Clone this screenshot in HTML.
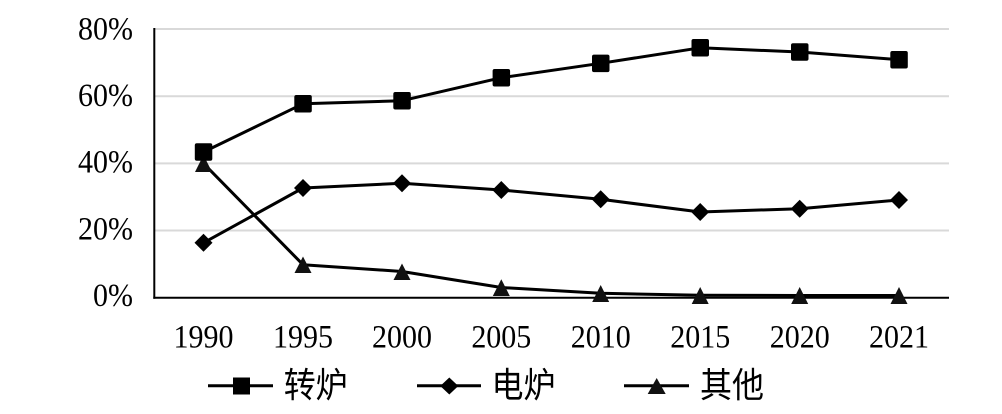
<!DOCTYPE html>
<html>
<head>
<meta charset="utf-8">
<style>
  html, body { margin: 0; padding: 0; background: #ffffff; }
  svg { display: block; }
  .num { font-family: "Liberation Serif", serif; font-size: 30px; fill: #000; }
  .cjk { font-family: "Liberation Sans", "Noto Sans CJK SC", sans-serif; font-size: 32px; fill: #000; }
</style>
</head>
<body>
<svg width="1002" height="414" viewBox="0 0 1002 414" xmlns="http://www.w3.org/2000/svg">
  <rect x="0" y="0" width="1002" height="414" fill="#ffffff"/>

  <!-- gridlines -->
  <g stroke="#d9d9d9" stroke-width="2">
    <line x1="155" y1="29" x2="949" y2="29"/>
    <line x1="155" y1="96.2" x2="949" y2="96.2"/>
    <line x1="155" y1="163.4" x2="949" y2="163.4"/>
    <line x1="155" y1="230.5" x2="949" y2="230.5"/>
  </g>

  <!-- axes -->
  <line x1="154.3" y1="28" x2="154.3" y2="298.7" stroke="#000" stroke-width="2"/>
  <line x1="153.3" y1="297.7" x2="949" y2="297.7" stroke="#000" stroke-width="2"/>

  <!-- Y axis labels -->
  <g class="num" text-anchor="end">
    <g transform="translate(133,39.3) scale(1,1.1)"><text x="0" y="0">80%</text></g>
    <g transform="translate(133,106) scale(1,1.1)"><text x="0" y="0">60%</text></g>
    <g transform="translate(133,172.7) scale(1,1.1)"><text x="0" y="0">40%</text></g>
    <g transform="translate(133,239.3) scale(1,1.1)"><text x="0" y="0">20%</text></g>
    <g transform="translate(133,306) scale(1,1.1)"><text x="0" y="0">0%</text></g>
  </g>

  <!-- X axis labels -->
  <g class="num" text-anchor="middle">
    <g transform="translate(203.5,347.7) scale(1,1.1)"><text x="0" y="0">1990</text></g>
    <g transform="translate(303,347.7) scale(1,1.1)"><text x="0" y="0">1995</text></g>
    <g transform="translate(402,347.7) scale(1,1.1)"><text x="0" y="0">2000</text></g>
    <g transform="translate(501.3,347.7) scale(1,1.1)"><text x="0" y="0">2005</text></g>
    <g transform="translate(600.7,347.7) scale(1,1.1)"><text x="0" y="0">2010</text></g>
    <g transform="translate(700.2,347.7) scale(1,1.1)"><text x="0" y="0">2015</text></g>
    <g transform="translate(799.7,347.7) scale(1,1.1)"><text x="0" y="0">2020</text></g>
    <g transform="translate(899,347.7) scale(1,1.1)"><text x="0" y="0">2021</text></g>
  </g>

  <!-- Series lines -->
  <g fill="none" stroke="#000" stroke-width="3" stroke-linejoin="round">
    <!-- 其他 -->
    <polyline points="203.5,163.4 303,264.7 402,271.5 501.3,287.5 600.7,293.3 700.2,295.3 799.7,295.5 899,295.5"/>
    <!-- 电炉 -->
    <polyline points="203.5,242.8 303,188 402,183.3 501.3,190 600.7,199.3 700.2,212 799.7,208.7 899,200"/>
    <!-- 转炉 -->
    <polyline points="203.5,152 303,103.8 402,100.7 501.3,77.7 600.7,63.3 700.2,47.8 799.7,52 899,59.7"/>
  </g>

  <!-- 其他 markers (triangles) -->
  <g fill="#111">
    <polygon points="203.5,155 212,172 195,172"/>
    <polygon points="303,256.5 311.5,273 294.5,273"/>
    <polygon points="402,263.5 410.5,280 393.5,280"/>
    <polygon points="501.3,279.3 509.8,296 492.8,296"/>
    <polygon points="600.7,285 609.2,302 592.2,302"/>
    <polygon points="700.2,287 708.7,304 691.7,304"/>
    <polygon points="799.7,287 808.2,304 791.2,304"/>
    <polygon points="899,287 907.5,304 890.5,304"/>
  </g>

  <!-- 电炉 markers (diamonds) -->
  <g fill="#000">
    <polygon points="203.5,233.8 212.5,242.8 203.5,251.8 194.5,242.8"/>
    <polygon points="303,179 312,188 303,197 294,188"/>
    <polygon points="402,174.3 411,183.3 402,192.3 393,183.3"/>
    <polygon points="501.3,181 510.3,190 501.3,199 492.3,190"/>
    <polygon points="600.7,190.3 609.7,199.3 600.7,208.3 591.7,199.3"/>
    <polygon points="700.2,203 709.2,212 700.2,221 691.2,212"/>
    <polygon points="799.7,199.7 808.7,208.7 799.7,217.7 790.7,208.7"/>
    <polygon points="899,191 908,200 899,209 890,200"/>
  </g>

  <!-- 转炉 markers (squares) -->
  <g fill="#000">
    <rect x="194.8" y="143.3" width="17.5" height="17.5" rx="2"/>
    <rect x="294.3" y="95" width="17.5" height="17.5" rx="2"/>
    <rect x="393.3" y="92" width="17.5" height="17.5" rx="2"/>
    <rect x="492.6" y="69" width="17.5" height="17.5" rx="2"/>
    <rect x="592" y="54.6" width="17.5" height="17.5" rx="2"/>
    <rect x="691.5" y="39" width="17.5" height="17.5" rx="2"/>
    <rect x="791" y="43.3" width="17.5" height="17.5" rx="2"/>
    <rect x="890.3" y="51" width="17.5" height="17.5" rx="2"/>
  </g>

  <!-- Legend -->
  <g stroke="#000" stroke-width="3">
    <line x1="208" y1="385.7" x2="273" y2="385.7"/>
    <line x1="417" y1="385.7" x2="481" y2="385.7"/>
    <line x1="624" y1="385.7" x2="689" y2="385.7"/>
  </g>
  <rect x="233" y="377.5" width="17" height="17" fill="#000"/>
  <polygon points="449.3,377.5 458.3,386 449.3,394.5 440.3,386" fill="#000"/>
  <polygon points="656.7,378 665.7,394 647.7,394" fill="#111"/>

  <g class="cjk">
    <g transform="translate(283.7,397.7) scale(1,1.1)"><text x="0" y="0">转炉</text></g>
    <g transform="translate(491.5,397.7) scale(1,1.1)"><text x="0" y="0">电炉</text></g>
    <g transform="translate(700,397.7) scale(1,1.1)"><text x="0" y="0">其他</text></g>
  </g>
</svg>
</body>
</html>
